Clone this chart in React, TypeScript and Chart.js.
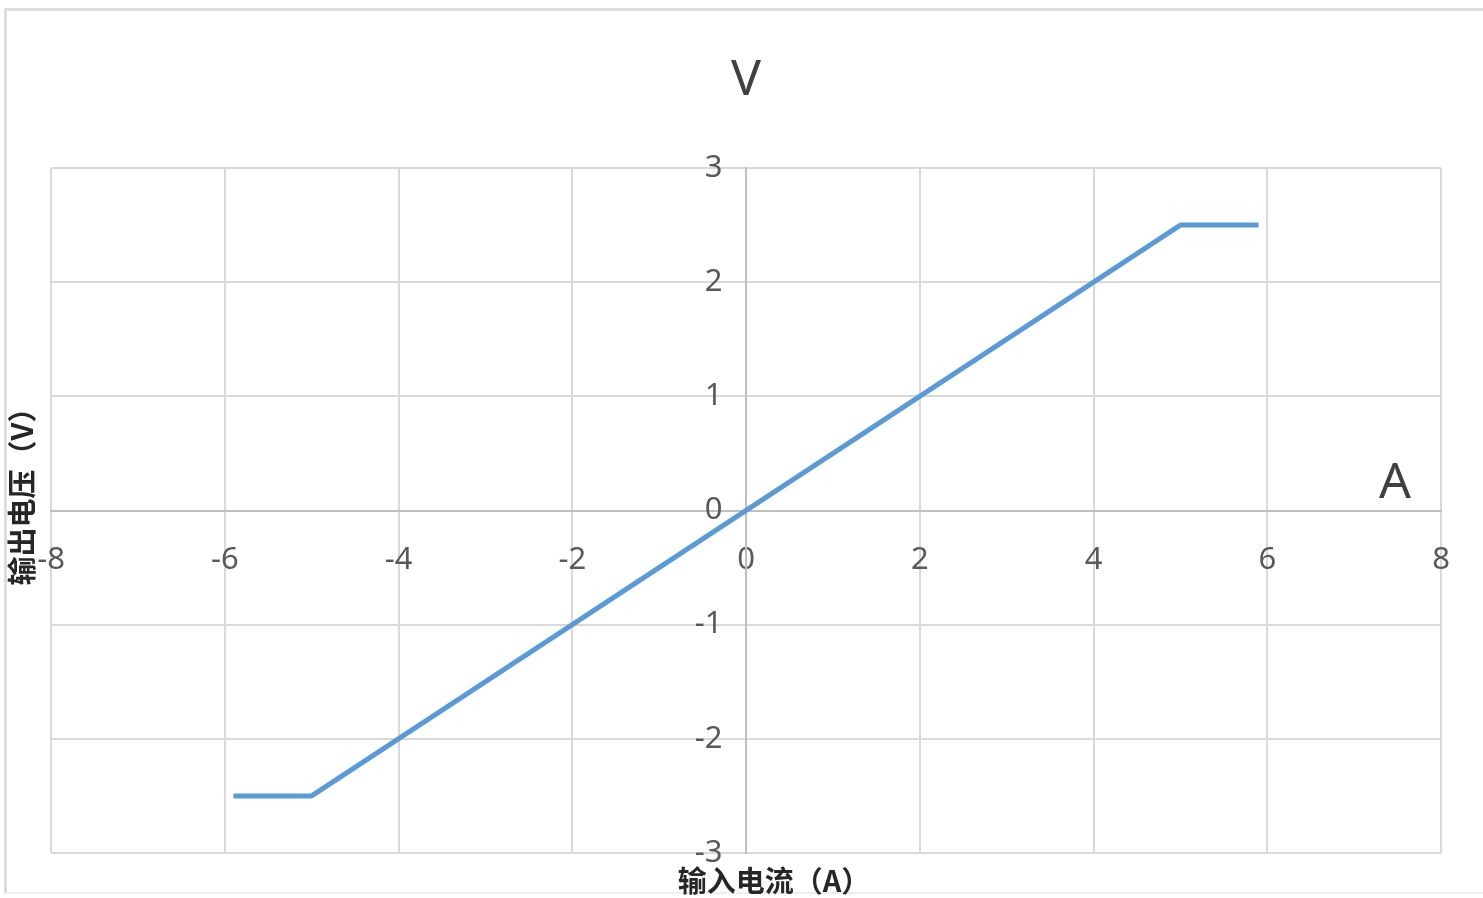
import React, { useEffect, useRef } from "react";
import { Chart, registerables } from "chart.js";

Chart.register(...registerables);

// Data
const currentA = [-5.9, -5, 5, 5.9];
const voltageV = [-2.5, -2.5, 2.5, 2.5];
const xMin = -8;
const xMax = 8;
const xStep = 2;
const yMin = -3;
const yMax = 3;
const yStep = 1;
const xTitle = "输入电流（A）";
const yTitle = "输出电压（V）";
const xUnit = "A";
const yUnit = "V";

const GRID = "#d9d9d9";
const AXIS = "#bfbfbf";
const TICK_COLOR = "#595959";
const TICK_FONT = { family: '"Noto Sans", "Open Sans", sans-serif', size: 31 };

const textPlugin = {
  id: "extraText",
  afterDraw(chart: any) {
    const { ctx, chartArea: ca } = chart;
    const x0 = chart.scales.x.getPixelForValue(0);
    const y0 = chart.scales.y.getPixelForValue(0);
    ctx.save();
    ctx.textAlign = "center";
    ctx.textBaseline = "middle";
    ctx.fillStyle = "#404040";
    ctx.font = '50px "Noto Sans", "Open Sans", sans-serif';
    ctx.fillText(yUnit, x0, ca.top - 87);
    ctx.fillText(xUnit, ca.right - 46, y0 - 27);

    ctx.fillStyle = "#262626";
    ctx.font = 'bold 29px "Noto Sans CJK SC", sans-serif';
    ctx.fillText(xTitle, (ca.left + ca.right) / 2 + 28, ca.bottom + 28);

    ctx.translate(22, (ca.top + ca.bottom) / 2 - 21);
    ctx.rotate(-Math.PI / 2);
    ctx.font = 'bold 29px "Noto Sans CJK SC", sans-serif';
    ctx.fillText(yTitle, 0, 0);
    ctx.restore();
  },
};

export default function App() {
  const canvasRef = useRef<HTMLCanvasElement | null>(null);

  useEffect(() => {
    if (!canvasRef.current) return;
    const points = currentA.map((x, i) => ({ x, y: voltageV[i] }));
    const gridColor = (c: any) => (c.tick && c.tick.value === 0 ? AXIS : GRID);
    const chart = new Chart(canvasRef.current, {
      type: "line",
      data: {
        datasets: [
          {
            data: points,
            borderColor: "#5b9bd5",
            borderWidth: 5,
            pointRadius: 0,
            borderJoinStyle: "round",
            borderCapStyle: "butt",
            tension: 0,
            fill: false,
            yAxisID: "y",
            xAxisID: "x",
          },
        ],
      },
      options: {
        animation: false,
        responsive: false,
        maintainAspectRatio: false,
        layout: { padding: { left: 51, right: 42, top: 168, bottom: 45 } },
        plugins: {
          legend: { display: false },
          tooltip: { enabled: false },
          title: { display: false },
        },
        scales: {
          x: {
            type: "linear",
            position: { y: 0 } as any,
            min: xMin,
            max: xMax,
            ticks: {
              stepSize: xStep,
              color: TICK_COLOR,
              padding: 31,
              maxRotation: 0,
              font: TICK_FONT,
            },
            grid: { drawTicks: false, lineWidth: 2, color: gridColor },
            border: { display: true, color: AXIS, width: 2 },
          },
          y: {
            type: "linear",
            position: { x: 0 } as any,
            min: yMin,
            max: yMax,
            ticks: { stepSize: yStep, display: false },
            grid: { drawTicks: false, lineWidth: 2, color: gridColor },
            border: { display: true, color: AXIS, width: 2 },
          },
          yLabels: {
            type: "linear",
            position: { x: -0.27 } as any,
            min: yMin,
            max: yMax,
            ticks: { stepSize: yStep, color: TICK_COLOR, font: TICK_FONT, padding: 0 },
            grid: { display: false, drawTicks: false },
            border: { display: false },
          },
        },
      },
      plugins: [textPlugin],
    });
    return () => chart.destroy();
  }, []);

  return (
    <>
      <div
        style={{
          position: "absolute",
          left: 4,
          top: 8,
          width: 1479,
          height: 886,
          borderLeft: "3px solid #dcdcdc",
          borderTop: "3px solid #dcdcdc",
          borderBottom: "2px solid #eeeeee",
          boxSizing: "border-box",
        }}
      />
      <canvas
        ref={canvasRef}
        width={1483}
        height={898}
        style={{ position: "absolute", left: 0, top: 0, width: 1483, height: 898 }}
      />
    </>
  );
}
